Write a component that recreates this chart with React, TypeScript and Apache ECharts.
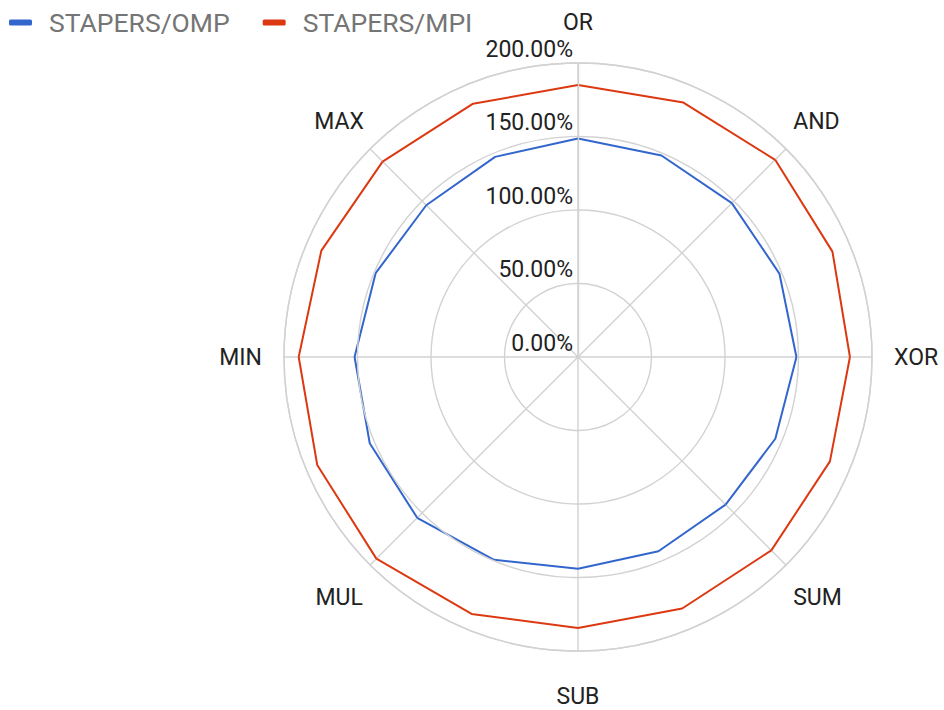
import React, { useEffect, useRef } from "react";
import * as echarts from "echarts";

// Operations around the circle, clockwise from the top
const categories = ["OR", "AND", "XOR", "SUM", "SUB", "MUL", "MIN", "MAX"];

// Relative performance per operation (percent)
const ompValues = [148.7, 148, 148.6, 142, 144, 154.7, 152, 146];
const mpiValues = [185, 189.7, 185, 186, 184.4, 194, 190, 188];

const seriesNames = ["STAPERS/OMP", "STAPERS/MPI"];
const seriesColors = ["#3366cc", "#dc3912"];

// Radius ticks (percent)
const radiusMin = 0;
const radiusMax = 200;
const radiusStep = 50;

const FONT = "Roboto, 'Noto Sans', sans-serif";

// Per-label placement tweaks for the operation names around the circle
const labelStyles: Record<string, any> = {
  OR: { padding: [0, 0, 46, 0] },
  AND: { padding: [0, 0, 23, 3] },
  XOR: { padding: [0, 0, 0, 16] },
  SUM: { padding: [33, 0, 0, 3] },
  SUB: { padding: [55, 0, 0, 0] },
  MUL: { padding: [33, 3, 0, 0] },
  MIN: { padding: [0, 16, 0, 0] },
  MAX: { padding: [0, 2, 23, 0] },
};

// Draws each segment between consecutive operations with the radius
// varying linearly with the angle (sampled coarsely), closing the loop.
function makeRenderItem(values: number[], color: string) {
  return (params: any, api: any) => {
    const i = params.dataIndex;
    const j = (i + 1) % values.length;
    const v0 = values[i];
    const v1 = values[j];
    const steps = 2;
    const points: number[][] = [];
    for (let k = 0; k <= steps; k++) {
      const t = k / steps;
      points.push(api.coord([v0 + (v1 - v0) * t, i + t]));
    }
    return {
      type: "polyline",
      shape: { points },
      style: { stroke: color, lineWidth: 2, fill: null, lineJoin: "round" },
    };
  };
}

export default function App() {
  const ref = useRef<HTMLDivElement>(null);

  useEffect(() => {
    if (!ref.current) return;
    const chart = echarts.init(ref.current, undefined, { renderer: "svg" });

    const rich: Record<string, any> = {};
    categories.forEach((c, idx) => {
      rich["c" + idx] = {
        fontSize: 23,
        lineHeight: 24,
        color: "#222222",
        fontFamily: FONT,
        ...labelStyles[c],
      };
    });

    const gridLine = { color: "#d2d2d2", width: 1.4 };

    chart.setOption({
      animation: false,
      backgroundColor: "#ffffff",
      textStyle: { fontFamily: FONT },
      legend: {
        left: 9,
        top: 9,
        padding: 0,
        icon: "roundRect",
        itemWidth: 23,
        itemHeight: 6,
        itemGap: 33,
        data: seriesNames,
        textStyle: {
          fontSize: 26.5,
          color: "#757575",
          fontFamily: FONT,
          padding: [0, 0, 0, 12],
        },
      },
      polar: {
        center: [578, 357],
        radius: 294,
      },
      angleAxis: {
        type: "value",
        min: 0,
        max: categories.length,
        interval: 1,
        startAngle: 90,
        clockwise: true,
        axisLine: { show: true, lineStyle: gridLine },
        axisTick: { show: false },
        splitLine: { show: true, lineStyle: gridLine },
        axisLabel: {
          margin: 6,
          formatter: (v: number) => {
            const idx = Math.round(v);
            if (idx < 0 || idx >= categories.length) return "";
            return `{c${idx}|${categories[idx]}}`;
          },
          rich,
        },
      },
      radiusAxis: {
        type: "value",
        min: radiusMin,
        max: radiusMax,
        interval: radiusStep,
        axisLine: { show: true, lineStyle: gridLine },
        axisTick: { show: false },
        splitLine: { show: true, lineStyle: gridLine },
        axisLabel: {
          show: true,
          showMinLabel: true,
          showMaxLabel: true,
          hideOverlap: false,
          margin: 5,
          align: "right",
          verticalAlign: "bottom",
          fontSize: 23,
          lineHeight: 24,
          padding: [0, 0, 2, 0],
          color: "#222222",
          fontFamily: FONT,
          formatter: (v: number) => v.toFixed(2) + "%",
        },
        z: 10,
      },
      series: [ompValues, mpiValues].map((values, s) => ({
        type: "custom",
        name: seriesNames[s],
        coordinateSystem: "polar",
        itemStyle: { color: seriesColors[s] },
        encode: { radius: 0, angle: 1 },
        data: values.map((v, i) => [v, i]),
        renderItem: makeRenderItem(values, seriesColors[s]),
        silent: true,
      })),
    });

    return () => chart.dispose();
  }, []);

  return (
    <div
      ref={ref}
      style={{ position: "fixed", left: 0, top: 0, width: 944, height: 710 }}
    />
  );
}
